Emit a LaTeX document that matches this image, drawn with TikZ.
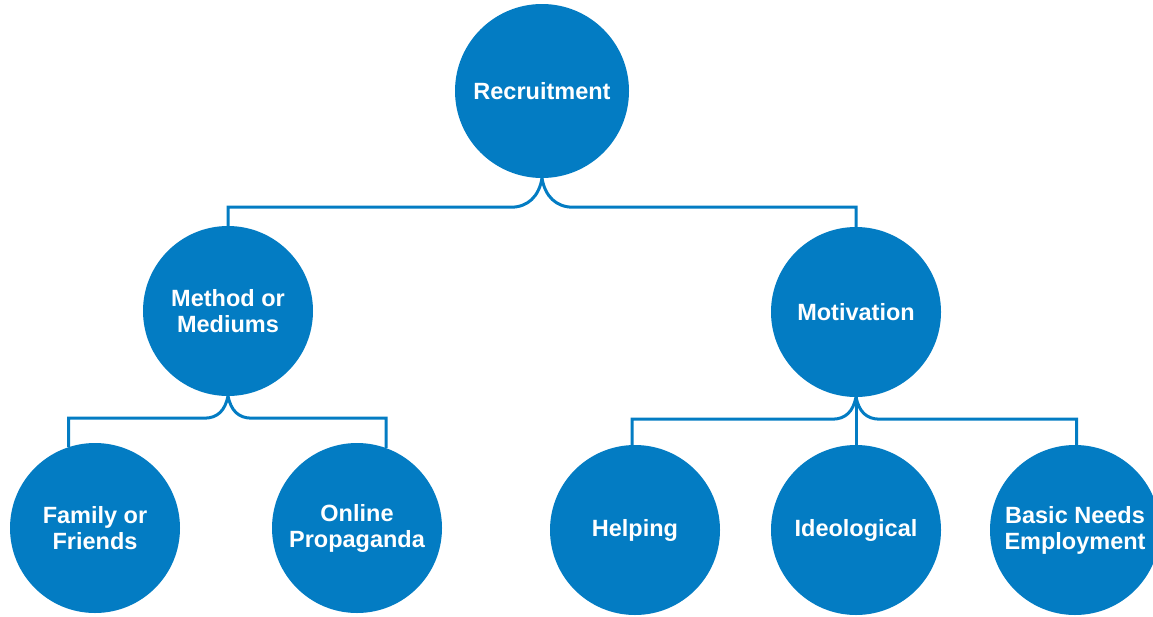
\documentclass[tikz,border=0pt]{standalone}
\usepackage{fontspec}
\setmainfont{Liberation Sans}
\definecolor{blu}{RGB}{3,124,195}
\begin{document}
\begin{tikzpicture}[x=1pt,y=-1pt,
  circ/.style={circle,fill=blu,minimum size=170pt,inner sep=0pt,text=white,
    font=\fontsize{23.5}{26}\selectfont\bfseries,align=center},
  link/.style={draw=blu,line width=3pt}]
\useasboundingbox (0,0) rectangle (1153,616);
\node[circ,minimum size=174pt] (rec) at (542,91) {Recruitment};
\node[circ] (meth) at (228,311) {Method or\\Mediums};
\node[circ] (mot) at (856,312) {Motivation};
\node[circ] (fam) at (95,528) {Family or\\Friends};
\node[circ] (onl) at (357,528) {Online\\Propaganda};
\node[circ] (help) at (635,530) {Helping};
\node[circ] (ideo) at (856,530) {Ideological};
\node[circ] (basic) at (1075,530) {Basic Needs\\Employment};
\draw[link] (rec.south) .. controls +(-3,18) and +(17,0) .. ++(-31,29) -| (meth.north);
\draw[link] (rec.south) .. controls +(3,18) and +(-17,0) .. ++(31,29) -| (mot.north);
\draw[link] (meth.south) .. controls +(-3,14) and +(14,0) .. ++(-24,22) -| (fam.108);
\draw[link] (meth.south) .. controls +(3,14) and +(-14,0) .. ++(24,22) -| (onl.70);
\draw[link] (mot.south) .. controls +(-3,14) and +(14,0) .. ++(-24,22) -| (help.92);
\draw[link] (mot.south) .. controls +(3,14) and +(-14,0) .. ++(24,22) -| (basic.89);
\draw[link] (mot.south) -- (ideo.north);
\end{tikzpicture}
\end{document}
